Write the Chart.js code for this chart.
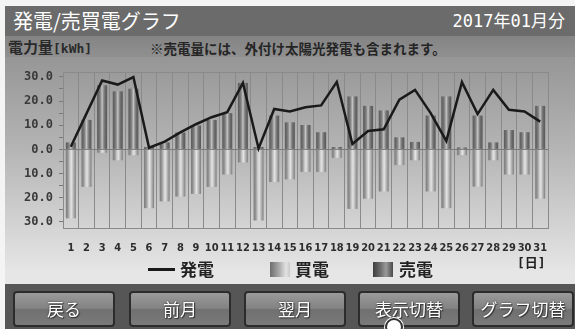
<!DOCTYPE html>
<html><head><meta charset="utf-8">
<script src="https://cdn.jsdelivr.net/npm/chart.js@4/dist/chart.umd.min.js"></script>
<style>
html,body{margin:0;padding:0;width:575px;height:329px;overflow:hidden;background:#f4f4f4;font-family:"Noto Sans CJK JP",sans-serif;}
#title{position:absolute;left:5px;top:6px;width:570px;height:30px;background:#6b6b6b;}
#title .t{position:absolute;left:8px;top:2px;font-size:20px;color:#fff;line-height:26px;}
#title .m{position:absolute;right:10px;top:3px;font-size:17px;color:#fff;line-height:24px;font-family:"DejaVu Sans Mono","Noto Sans CJK JP";}
#sub{position:absolute;left:5px;top:36px;width:570px;height:21px;background:linear-gradient(#848484,#909090);}
#sub .u{position:absolute;left:3px;top:1px;font-size:15px;font-weight:700;color:#2a2a2a;line-height:20px;}
#sub .u span{font-family:"DejaVu Sans Mono";font-size:13px;}
#sub .n{position:absolute;left:145px;top:2px;font-size:13.5px;font-weight:700;color:#252525;line-height:20px;}
#body{position:absolute;left:5px;top:57px;width:570px;height:227px;background:linear-gradient(#969696,#b4b4b4 40%,#e6e6e6 95%);}
#wrap{position:absolute;left:0;top:57px;width:575px;height:226px;}
#legend{position:absolute;top:258px;left:0;width:575px;height:22px;font-size:17px;font-weight:700;color:#222;}
#legend div{position:absolute;top:0;line-height:22px;}
.ln{position:absolute;height:3px;background:#1a1a1a;}
.bx{position:absolute;width:20px;height:15px;}
#day{position:absolute;left:517px;top:252px;font-size:13px;font-family:"DejaVu Sans Mono","Noto Sans CJK JP";color:#222;font-weight:700;}
#btnbar{position:absolute;left:5px;top:284px;width:570px;height:45px;background:#565656;}
.btn{position:absolute;top:291px;width:98px;height:32px;border:2px solid #2c2c2c;border-radius:4px;background:linear-gradient(#9a9a9a,#838383 48%,#707070 52%,#7a7a7a);color:#fff;font-size:17px;text-align:center;line-height:32px;text-shadow:0 0 2px #333,1px 1px 1px #333;}
#touch{position:absolute;left:385px;top:318px;width:14px;height:14px;border-radius:50%;border:2px solid #333;background:#fff;box-shadow:0 0 0 1px #fff;}
</style></head>
<body>
<div id="title"><div class="t">発電/売買電グラフ</div><div class="m">2017年01月分</div></div>
<div id="sub"><div class="u">電力量<span>[kWh]</span></div><div class="n">※売電量には、外付け太陽光発電も含まれます。</div></div>
<div id="body"></div>
<div id="wrap"><canvas id="c" width="575" height="226"></canvas></div>
<div id="day">[日]</div>
<div id="legend">
  <span class="ln" style="left:148px;top:10px;width:27px;"></span><div style="left:180px;">発電</div>
  <span class="bx" style="left:270px;top:4px;background:linear-gradient(90deg,#6e6e6e,#a8a8a8 45%,#e2e2e2 80%,#c8c8c8);"></span><div style="left:295px;">買電</div>
  <span class="bx" style="left:373px;top:4px;background:linear-gradient(90deg,#3e3e3e,#707070 40%,#9a9a9a 65%,#4a4a4a);"></span><div style="left:399px;">売電</div>
</div>
<div id="btnbar"></div>
<div class="btn" style="left:13px;">戻る</div>
<div class="btn" style="left:129px;">前月</div>
<div class="btn" style="left:244px;">翌月</div>
<div class="btn" style="left:358px;">表示切替</div>
<div class="btn" style="left:472px;">グラフ切替</div>
<div id="touch"></div>
<script>
const days = ['1','2','3','4','5','6','7','8','9','10','11','12','13','14','15','16','17','18','19','20','21','22','23','24','25','26','27','28','29','30','31'];
const generation = [1.1, 14.8, 28.5, 26.8, 29.9, 0.7, 3.2, 7.0, 10.4, 13.3, 15.4, 27.5, 0.4, 16.7, 15.7, 17.4, 18.2, 27.9, 2.2, 7.6, 8.3, 20.6, 24.6, 15.0, 3.5, 27.8, 14.6, 24.6, 16.4, 15.7, 11.5];
const sold = [2.9, 12.2, 26.5, 24.0, 25.1, 1.0, 2.9, 7.0, 9.9, 12.2, 15.0, 27.5, 1.0, 14.0, 11.2, 10.1, 7.1, 1.0, 21.9, 18.0, 16.1, 5.0, 3.1, 14.0, 21.9, 0.8, 14.0, 2.9, 8.0, 7.1, 18.0];
const bought = [-28.5, -15.5, -1.4, -4.5, -2.4, -24.3, -21.5, -19.5, -18.4, -15.5, -10.4, -5.4, -29.4, -13.5, -12.4, -9.3, -9.3, -3.5, -24.6, -20.4, -17.4, -6.5, -4.5, -17.4, -24.3, -2.4, -15.4, -4.5, -10.4, -10.4, -20.4];
const yTicks = [-30, -25, -20, -15, -10, -5, 0, 5, 10, 15, 20, 25, 30];

const BAR_PCT = 0.64;
function barGradient(stops, fallback) {
  return ctx => {
    const ch = ctx.chart, xs = ch.scales && ch.scales.x;
    if (!xs || ctx.type !== 'data' || !isFinite(xs.width) || xs.width <= 0) return fallback;
    const cx = xs.getPixelForValue(ctx.dataIndex);
    const w = xs.width / days.length * BAR_PCT;
    const g = ch.ctx.createLinearGradient(cx - w / 2, 0, cx + w / 2, 0);
    stops.forEach(s => g.addColorStop(s[0], s[1]));
    return g;
  };
}
const soldStops = [[0,'#5a5a5a'],[0.2,'#6e6e6e'],[0.35,'#8c8c8c'],[0.5,'#c4c4c4'],[0.65,'#8c8c8c'],[0.8,'#6a6a6a'],[1,'#585858']];
const boughtStops = [[0,'#7c7c7c'],[0.2,'#939393'],[0.4,'#c8c8c8'],[0.55,'#e4e4e4'],[0.75,'#b8b8b8'],[1,'#7e7e7e']];

new Chart(document.getElementById('c'), {
  data: {
    labels: days,
    datasets: [
      { type: 'line', label: '発電', data: generation, borderColor: '#1a1a1a', borderWidth: 2.5, pointRadius: 0, tension: 0, order: 0 },
      { type: 'bar', label: '売電', data: sold, backgroundColor: barGradient(soldStops, '#7a7a7a'), borderWidth: 0, grouped: false, barPercentage: BAR_PCT, categoryPercentage: 1, order: 1 },
      { type: 'bar', label: '買電', data: bought, backgroundColor: barGradient(boughtStops, '#b0b0b0'), borderWidth: 0, grouped: false, barPercentage: BAR_PCT, categoryPercentage: 1, order: 1 }
    ]
  },
  options: {
    responsive: false,
    animation: false,
    layout: { padding: { left: 5, right: 27, top: 15, bottom: 0 } },
    plugins: { legend: { display: false }, tooltip: { enabled: false } },
    scales: {
      x: {
        grid: { offset: true, color: '#8a8a8a', lineWidth: 1, tickLength: 0 },
        border: { display: true, color: '#8a8a8a' },
        ticks: { color: '#2e2e2e', font: { family: 'DejaVu Sans Condensed', size: 11, weight: 'bold' }, padding: 14, maxRotation: 0, autoSkip: false },
        afterFit: s => { s.height = 55; }
      },
      y: {
        min: -32.5, max: 32,
        afterBuildTicks: s => { s.ticks = [-32.5].concat(yTicks).concat([32]).map(v => ({ value: v })); },
        grid: {
          color: c => (c.tick && (c.tick.value === 0)) ? '#7a7a7a' : (c.tick && (c.tick.value === 32 || c.tick.value === -32.5) ? '#8a8a8a' : 'rgba(0,0,0,0)'),
          tickColor: c => (c.tick && (c.tick.value === 32 || c.tick.value === -32.5)) ? 'rgba(0,0,0,0)' : '#7a7a7a',
          tickLength: 4, lineWidth: 1
        },
        border: { display: true, color: '#8a8a8a' },
        ticks: {
          color: '#3a3a3a', padding: 6, autoSkip: false,
          font: { family: 'DejaVu Sans Mono', size: 12, weight: 'bold' },
          callback: v => (Number.isInteger(v) && v % 10 === 0) ? Math.abs(v).toFixed(1) : ''
        },
        afterFit: s => { s.width = 58; }
      }
    }
  }
});
</script>
</body></html>
